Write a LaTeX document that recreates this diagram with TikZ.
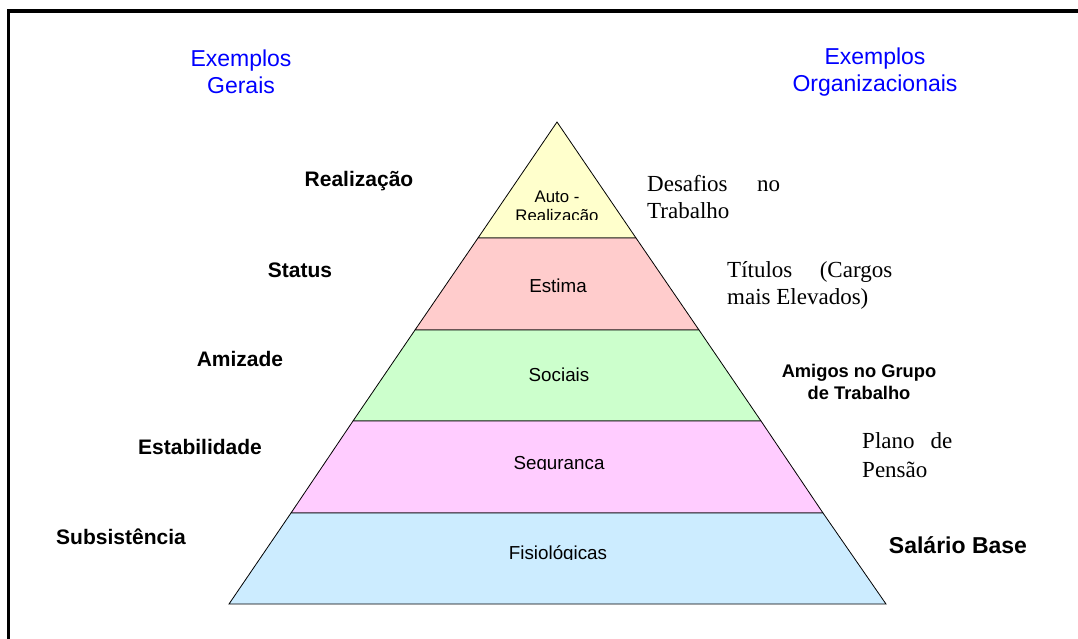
\documentclass[tikz,border=0pt]{standalone}
\usepackage{fontspec}
\setmainfont{Liberation Sans}
\newfontfamily\tms{Liberation Serif}
\definecolor{lvlA}{HTML}{FFFFCC}
\definecolor{lvlB}{HTML}{FFCCCC}
\definecolor{lvlC}{HTML}{CCFFCC}
\definecolor{lvlD}{HTML}{FFCCFF}
\definecolor{lvlE}{HTML}{CCECFF}
\definecolor{hdblue}{HTML}{0000FF}
\begin{document}
\begin{tikzpicture}[x=1pt,y=-1pt,
  layer/.style={draw=black,line width=0.8pt,line join=miter},
  head/.style={text=hdblue,align=center,inner sep=0pt,font=\fontsize{23}{27}\selectfont},
  leftlbl/.style={inner sep=0pt,font=\bfseries\fontsize{21}{25}\selectfont},
  inlbl/.style={inner sep=0pt,align=center,font=\fontsize{18.8}{22}\selectfont},
  serifblk/.style={inner sep=0pt,align=left,anchor=west,font=\tms\fontsize{23}{27}\selectfont}]
\useasboundingbox (0,0) rectangle (1078,639);
\fill[white] (0,0) rectangle (1078,639);
% frame
\draw[line width=3.5pt,line join=miter] (8.5,645) -- (8.5,11) -- (1085,11);
% pyramid coordinates
\coordinate (apex) at (557,122);
\coordinate (L1) at (478,238); \coordinate (R1) at (636,238);
\coordinate (L2) at (415,330); \coordinate (R2) at (699,330);
\coordinate (L3) at (353,421); \coordinate (R3) at (761,421);
\coordinate (L4) at (291,513); \coordinate (R4) at (823,513);
\coordinate (L5) at (229,604); \coordinate (R5) at (886,604);
\filldraw[layer,fill=lvlA] (apex) -- (R1) -- (L1) -- cycle;
\filldraw[layer,fill=lvlB] (L1) -- (R1) -- (R2) -- (L2) -- cycle;
\filldraw[layer,fill=lvlC] (L2) -- (R2) -- (R3) -- (L3) -- cycle;
\filldraw[layer,fill=lvlD] (L3) -- (R3) -- (R4) -- (L4) -- cycle;
\filldraw[layer,fill=lvlE] (L4) -- (R4) -- (R5) -- (L5) -- cycle;
% inner labels (clipped as in the reference)
\begin{scope}
  \clip (480,180) rectangle (640,219.5);
  \node[inlbl,font=\fontsize{16.8}{19}\selectfont] (auto) at (557,208) {Auto -\\Realização};
\end{scope}
\node[inlbl] (estima) at (558,286) {Estima};
\node[inlbl] (sociais) at (559,375) {Sociais};
\begin{scope}
  \clip (480,440) rectangle (640,469.5);
  \node[inlbl] (seg) at (559,465) {Seguranca};
\end{scope}
\begin{scope}
  \clip (480,530) rectangle (640,559.5);
  \node[inlbl] (fisio) at (558,554.5) {Fisiológicas};
\end{scope}
% headers
\node[head] (hg) at (241,72) {Exemplos\\Gerais};
\node[head] (ho) at (875,72) {Exemplos\\Organizacionais};
% left labels
\node[leftlbl] (real) at (359,181) {Realização};
\node[leftlbl] (stat) at (300,270) {Status};
\node[leftlbl] (amiz) at (240,359) {Amizade};
\node[leftlbl] (estab) at (200,447) {Estabilidade};
\node[leftlbl] (subs) at (121,537) {Subsistência};
% right labels
\node[serifblk] (desaf) at (647,197) {\hbox to 133pt{Desafios\hfill no}\\Trabalho};
\node[serifblk] (tit) at (727,285) {\hbox to 165pt{Títulos\hfill (Cargos}\\mais Elevados)};
\node[inner sep=0pt,align=center,font=\bfseries\fontsize{18.3}{22}\selectfont] (amig) at (859,382) {Amigos no Grupo\\de Trabalho};
\node[serifblk,font=\tms\fontsize{23}{28.5}\selectfont] (plano) at (862,455) {\hbox to 90pt{Plano\hfill de}\\Pensão};
\node[inner sep=0pt,font=\bfseries\fontsize{23}{27}\selectfont] (sal) at (958,545) {Salário Base};
\end{tikzpicture}
\end{document}
